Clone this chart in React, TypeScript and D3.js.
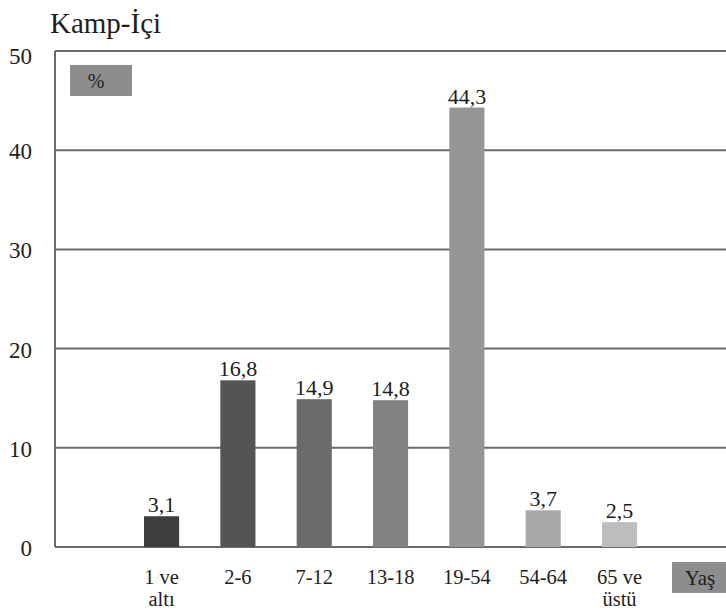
import React from "react";
import * as d3 from "d3";

const title = "Kamp-İçi";
const categories = ["1 ve\naltı", "2-6", "7-12", "13-18", "19-54", "54-64", "65 ve\nüstü"];
const values = [3.1, 16.8, 14.9, 14.8, 44.3, 3.7, 2.5];
const barColors = ["#3d3d3e", "#545456", "#6b6b6e", "#828285", "#959598", "#a9a9ab", "#bdbdbf"];
const yTicks = [0, 10, 20, 30, 40, 50];
const unitLabel = "%";
const axisLabel = "Yaş";

const W = 726;
const H = 616;

export default function App() {
  const left = 55;
  const right = 726;
  const y = d3.scaleLinear().domain([0, 50]).range([547, 51]);
  const x = d3
    .scaleBand<string>()
    .domain(categories)
    .range([102.8, 678.3])
    .paddingInner(0.54)
    .paddingOuter(0.54);
  const fmt = (v: number) => d3.format(".1f")(v).replace(".", ",");

  return (
    <svg
      width={W}
      height={H}
      style={{ position: "absolute", left: 0, top: 0, display: "block", background: "#fff" }}
    >
      <style>{`text { font-family: "Liberation Serif", serif; fill: #1e1e1e; }`}</style>
      <text x={50} y={33} fontSize={29}>
        {title}
      </text>
      {yTicks.map((t) => (
        <g key={t}>
          <line x1={left} x2={right} y1={y(t)} y2={y(t)} stroke="#6a6a6a" strokeWidth={2} />
          <text x={32} y={y(t) + (t === 50 ? 13 : 9)} fontSize={23} textAnchor="end">
            {t}
          </text>
        </g>
      ))}
      <line x1={left} x2={left} y1={y(50)} y2={y(0)} stroke="#6a6a6a" strokeWidth={2} />
      <rect x={70} y={65} width={62} height={31} fill="#8d8d8f" />
      <text x={96} y={88} fontSize={20} textAnchor="middle">
        {unitLabel}
      </text>
      {categories.map((c, i) => {
        const bx = x(c)!;
        const bw = x.bandwidth();
        const cx = bx + bw / 2;
        const lines = c.split("\n");
        return (
          <g key={c}>
            <rect x={bx} y={y(values[i])} width={bw} height={y(0) - y(values[i])} fill={barColors[i]} />
            <text x={cx} y={y(values[i]) - 4} fontSize={22} textAnchor="middle">
              {fmt(values[i])}
            </text>
            {lines.map((l, j) => (
              <text key={j} x={cx} y={584 + j * 22} fontSize={20.5} textAnchor="middle">
                {l}
              </text>
            ))}
          </g>
        );
      })}
      <rect x={672} y={562} width={54} height={31} fill="#8d8d8f" />
      <text x={700} y={585} fontSize={21} textAnchor="middle">
        {axisLabel}
      </text>
    </svg>
  );
}
